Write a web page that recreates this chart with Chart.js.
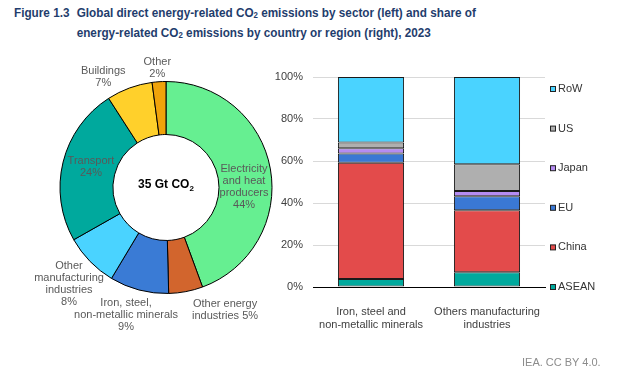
<!DOCTYPE html>
<html>
<head>
<meta charset="utf-8">
<script src="https://cdn.jsdelivr.net/npm/chart.js@4/dist/chart.umd.min.js"></script>
<style>
    body { margin: 0; width: 625px; height: 374px; background: #fff; position: relative; overflow: hidden; font-family: "Liberation Sans", Arial, sans-serif; }
    .title { position: absolute; left: 14px; top: 3px; color: #1f3d6d; font-weight: bold; font-size: 13.5px; line-height: 20px; transform: scaleX(0.87); transform-origin: 0 0; }
    .title .num { position: absolute; left: 0; top: 0; white-space: nowrap; }
    .title .txt { position: absolute; left: 72px; top: 0; white-space: nowrap; }
    .title sub { font-size: 9px; vertical-align: -1px; line-height: 0; }
    #donutBox { position: absolute; left: 0; top: 50px; width: 300px; height: 290px; }
    #barBox { position: absolute; left: 270px; top: 60px; width: 355px; height: 280px; }
    .source { position: absolute; left: 522px; top: 356px; font-size: 11px; color: #8c8c8c; }
</style>
</head>
<body>
<div class="title">
    <div class="num">Figure 1.3</div>
    <div class="txt">Global direct energy-related CO<sub>2</sub> emissions by sector (left) and share of<br>energy-related CO<sub>2</sub> emissions by country or region (right), 2023</div>
</div>
<div id="donutBox"><canvas id="donutChart" width="300" height="290"></canvas></div>
<div id="barBox"><canvas id="barChart" width="355" height="280"></canvas></div>
<div class="source">IEA. CC BY 4.0.</div>

<script>
// 左图：各部门排放占比 (%)
const sectorLines = [
    ['Electricity', 'and heat', 'producers'],
    ['Other energy', 'industries'],
    ['Iron, steel,', 'non-metallic minerals'],
    ['Other', 'manufacturing', 'industries'],
    ['Transport'],
    ['Buildings'],
    ['Other']
];
const sectorValues = [44.4, 5.2, 9.0, 8.2, 24.1, 7.0, 2.1];
const totalLabel = '35 Gt CO';

// 右图：按国家/地区的份额 (%)
const categories = [['Iron, steel and', 'non-metallic minerals'], ['Others manufacturing', 'industries']];
const aseanShare = [3.8, 7.0];
const chinaShare = [55.4, 29.6];
const euShare = [4.4, 6.6];
const japanShare = [2.5, 2.5];
const usShare = [2.7, 12.7];
const rowShare = [31.2, 41.6];
const yTicks = [0, 20, 40, 60, 80, 100];

const FONT = '"Liberation Sans", Arial, sans-serif';
const sectorColors = ['#66ef91', '#d2652d', '#3a7bd5', '#4ad3ff', '#00a99d', '#ffd02b', '#f0a30a'];

// 标签位置（以外半径为单位，相对圆心）
const labelLayout = [
    { dx: 0.736, dy: -0.008 },
    { dx: 0.557, dy: 1.156, inline: true },
    { dx: -0.377, dy: 1.206 },
    { dx: -0.915, dy: 0.910 },
    { dx: -0.708, dy: -0.193 },
    { dx: -0.592, dy: -1.045 },
    { dx: -0.082, dy: -1.128 }
];
const LINE_H = 12;

const sectorLabelPlugin = {
    id: 'sectorLabels',
    afterDatasetsDraw(chart) {
        const ctx = chart.ctx;
        const arc = chart.getDatasetMeta(0).data[0];
        const { x, y, outerRadius } = arc.getProps(['x', 'y', 'outerRadius'], true);
        ctx.save();
        ctx.font = '11px ' + FONT;
        ctx.fillStyle = '#595959';
        ctx.textAlign = 'center';
        ctx.textBaseline = 'middle';
        sectorValues.forEach((v, i) => {
            const pct = Math.round(v) + '%';
            const lines = sectorLines[i].slice();
            if (labelLayout[i].inline) {
                lines[lines.length - 1] += ' ' + pct;
            } else {
                lines.push(pct);
            }
            const cx = x + labelLayout[i].dx * outerRadius;
            const cy = y + labelLayout[i].dy * outerRadius;
            const top = cy - (lines.length - 1) * LINE_H / 2;
            lines.forEach((t, j) => ctx.fillText(t, cx, top + j * LINE_H));
        });

        // 中心文字
        ctx.fillStyle = '#000';
        ctx.font = 'bold 12px ' + FONT;
        const w1 = ctx.measureText(totalLabel).width;
        ctx.font = 'bold 8px ' + FONT;
        const w2 = ctx.measureText('2').width;
        const startX = x - (w1 + w2) / 2;
        ctx.textAlign = 'left';
        ctx.font = 'bold 12px ' + FONT;
        ctx.fillText(totalLabel, startX, y - 3);
        ctx.font = 'bold 8px ' + FONT;
        ctx.fillText('2', startX + w1, y + 1);
        ctx.restore();
    }
};

new Chart(document.getElementById('donutChart'), {
    type: 'doughnut',
    data: {
        labels: sectorLines.map(l => l.join(' ')),
        datasets: [{
            data: sectorValues,
            backgroundColor: sectorColors,
            borderColor: '#000',
            borderWidth: 1
        }]
    },
    options: {
        responsive: false,
        animation: false,
        cutout: '50%',
        layout: { padding: { left: 59.5, right: 27.5, top: 31, bottom: 46 } },
        plugins: { legend: { display: false }, tooltip: { enabled: false } }
    },
    plugins: [sectorLabelPlugin]
});

// 右侧图例
const regionLegendPlugin = {
    id: 'regionLegend',
    afterDraw(chart) {
        const { ctx, chartArea } = chart;
        const sets = chart.data.datasets;
        const step = (chartArea.bottom - chartArea.top - 12) / (sets.length - 1);
        ctx.save();
        ctx.font = '11px ' + FONT;
        ctx.textAlign = 'left';
        ctx.textBaseline = 'middle';
        sets.forEach((ds, i) => {
            const yy = chartArea.bottom - i * step;
            const bx = chartArea.right + 5.5;
            ctx.fillStyle = ds.backgroundColor;
            ctx.fillRect(bx, yy - 2.5, 5, 5);
            ctx.strokeStyle = '#222';
            ctx.lineWidth = 1;
            ctx.strokeRect(bx, yy - 2.5, 5, 5);
            ctx.fillStyle = '#333';
            ctx.fillText(ds.label, chartArea.right + 13, yy);
        });
        ctx.restore();
    }
};

const barSeries = [
    { label: 'ASEAN', data: aseanShare, color: '#00a99d' },
    { label: 'China', data: chinaShare, color: '#e34b4b' },
    { label: 'EU', data: euShare, color: '#3a78d4' },
    { label: 'Japan', data: japanShare, color: '#b58cf2' },
    { label: 'US', data: usShare, color: '#afafaf' },
    { label: 'RoW', data: rowShare, color: '#4ad3ff' }
];

new Chart(document.getElementById('barChart'), {
    type: 'bar',
    data: {
        labels: categories,
        datasets: barSeries.map(s => ({
            label: s.label,
            data: s.data,
            backgroundColor: s.color,
            borderColor: '#1a1a1a',
            borderWidth: 1,
            borderSkipped: false,
            barPercentage: 0.57,
            categoryPercentage: 1
        }))
    },
    options: {
        responsive: false,
        animation: false,
        layout: { padding: { left: 0, right: 80, top: 17, bottom: 0 } },
        plugins: { legend: { display: false }, tooltip: { enabled: false } },
        scales: {
            x: {
                stacked: true,
                afterFit(scale) { scale.height = 53; },
                grid: { display: false },
                border: { display: true, color: '#000', width: 1 },
                ticks: { color: '#404040', font: { family: FONT, size: 11 }, padding: 10, maxRotation: 0 }
            },
            y: {
                stacked: true,
                min: 0,
                max: 100,
                afterFit(scale) { scale.width = 43; },
                afterBuildTicks(scale) { scale.ticks = yTicks.map(v => ({ value: v })); },
                grid: { color: '#d9d9d9', drawTicks: false },
                border: { display: false },
                ticks: { color: '#404040', font: { family: FONT, size: 11 }, padding: 10, callback: v => v + '%' }
            }
        }
    },
    plugins: [regionLegendPlugin]
});
</script>
</body>
</html>
